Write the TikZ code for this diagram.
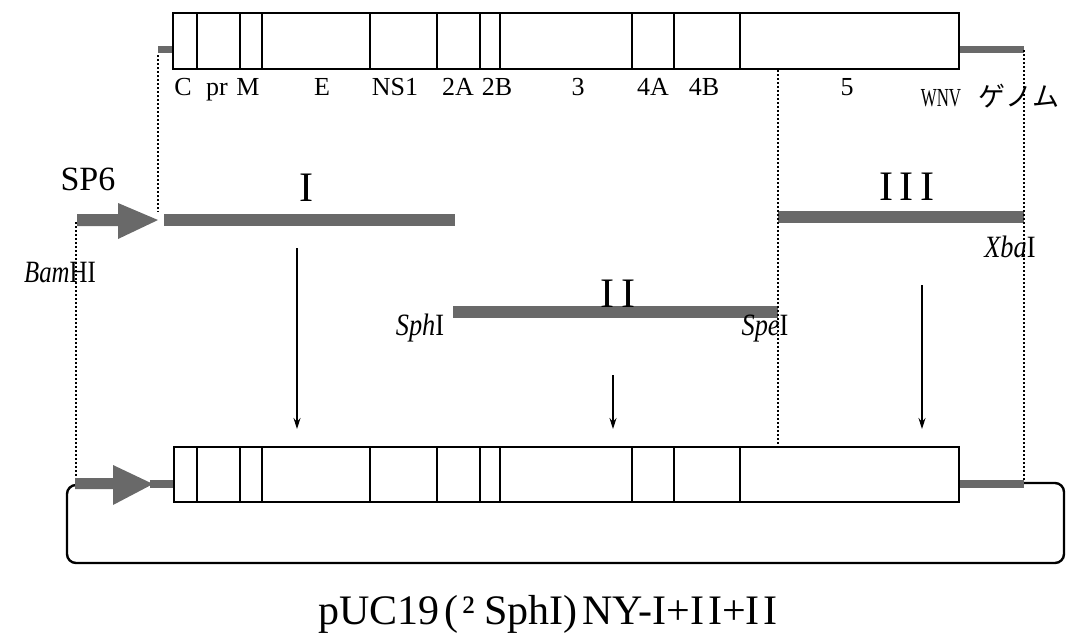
\documentclass[tikz,border=0pt]{standalone}
\usepackage{fontspec}
\setmainfont{Liberation Serif}
\newfontfamily\jpfont{Noto Sans CJK JP}
\usetikzlibrary{arrows.meta}
\definecolor{bargray}{RGB}{105,105,105}
\tikzset{
  genebox/.style={draw=black, line width=2.2pt},
  divider/.style={line width=1.8pt},
  dotline/.style={line width=1.8pt, dash pattern=on 1.8pt off 2.2pt},
  downarrow/.style={line width=1.1pt, -{Stealth[length=11pt,width=7pt]}},
  seglabel/.style={font=\fontsize{26}{26}\selectfont, inner sep=0pt, anchor=base},
  biglabel/.style={font=\fontsize{34}{34}\selectfont, inner sep=0pt, anchor=base},
  roman/.style={font=\fontsize{42}{42}\selectfont, inner sep=0pt, anchor=base},
  enzlabel/.style={font=\fontsize{31}{31}\selectfont, inner sep=0pt, anchor=base},
  looppath/.style={line width=2.4pt, rounded corners=9pt}
}
\begin{document}
\begin{tikzpicture}[x=1pt,y=-1pt]
\useasboundingbox (0,0) rectangle (1069,638);
% ---------- top genome ----------
\fill[bargray] (158,46) rectangle (173,53);
\fill[bargray] (959,46) rectangle (1024,53);
\draw[genebox] (173,13) rectangle (959,69);
\foreach \xx in {197,240,262,370,437,480,500,632,674,740}
  \draw[divider] (\xx,13) -- (\xx,69);
\node[seglabel] (lC) at (183,95) {C};
\node[seglabel] (lpr) at (217,95) {pr};
\node[seglabel] (lM) at (248,95) {M};
\node[seglabel] (lE) at (322,95) {E};
\node[seglabel] (lNS) at (395,95) {NS1};
\node[seglabel] (l2A) at (458,95) {2A};
\node[seglabel] (l2B) at (497,95) {2B};
\node[seglabel] (l3) at (578,95) {3};
\node[seglabel] (l4A) at (653,95) {4A};
\node[seglabel] (l4B) at (704,95) {4B};
\node[seglabel] (l5) at (847,95) {5};
\node[seglabel] (wnv) at (941,106) {\scalebox{0.65}[1]{WNV}};
\node[inner sep=0pt, anchor=base, font=\jpfont\fontsize{27}{27}\selectfont] (genome) at (1019,106) {ゲノム};
% ---------- SP6 arrow and fragments ----------
\node[biglabel] (sp6) at (88,190) {SP6};
\fill[bargray] (77,214) -- (118,214) -- (118,203) -- (158,220) -- (118,239) -- (118,226) -- (77,226) -- cycle;
\fill[bargray] (164,214) rectangle (455,226);
\node[roman] (rI) at (306,201) {I};
\fill[bargray] (453,306) rectangle (778,318);
\node[roman] (rII) at (618,307) {I\hspace{7pt}I};
\fill[bargray] (778,211) rectangle (1024,223);
\node[roman] (rIII) at (907,200) {I\hspace{7pt}I\hspace{7pt}I};
\node[enzlabel] (bam) at (60,282) {\scalebox{0.8}[1]{\textit{Bam}HI}};
\node[enzlabel] (sph) at (420,335) {\scalebox{0.85}[1]{\textit{Sph}I}};
\node[enzlabel] (spe) at (765,335) {\scalebox{0.85}[1]{\textit{Spe}I}};
\node[enzlabel] (xba) at (1010,257) {\scalebox{0.85}[1]{\textit{Xba}I}};
% ---------- dotted guides ----------
\coordinate (d1a) at (158,55); \coordinate (d1b) at (158,212);
\coordinate (d2a) at (778,70); \coordinate (d2b) at (778,446);
\coordinate (d3a) at (1024,50); \coordinate (d3b) at (1024,480);
\coordinate (d4a) at (76,222); \coordinate (d4b) at (76,478);
\draw[dotline] (d1a) -- (d1b);
\draw[dotline] (d2a) -- (d2b);
\draw[dotline] (d3a) -- (d3b);
\draw[dotline] (d4a) -- (d4b);
% ---------- down arrows ----------
\coordinate (a1s) at (297,248); \coordinate (a1e) at (297,429);
\coordinate (a2s) at (613,375); \coordinate (a2e) at (613,429);
\coordinate (a3s) at (922,285); \coordinate (a3e) at (922,429);
\draw[downarrow] (a1s) -- (a1e);
\draw[downarrow] (a2s) -- (a2e);
\draw[downarrow] (a3s) -- (a3e);
% ---------- bottom construct ----------
\draw[looppath] (1024,483) -- (1064,483) -- (1064,563) -- (67,563) -- (67,485) -- (77,485);
\fill[bargray] (75,478) -- (113,478) -- (113,465) -- (153,484) -- (113,505) -- (113,489) -- (75,489) -- cycle;
\fill[bargray] (150,480) rectangle (174,488);
\fill[bargray] (959,480) rectangle (1024,488);
\draw[genebox] (174,447) rectangle (959,502);
\foreach \xx in {197,240,262,370,437,480,500,632,674,740}
  \draw[divider] (\xx,447) -- (\xx,502);
% ---------- title ----------
\node[inner sep=0pt, anchor=base, font=\fontsize{42}{42}\selectfont] (title) at (548,624) {pUC19\hspace{5pt}(\hspace{4pt}²\hspace{9pt}SphI)\hspace{5pt}NY-I+I\hspace{4pt}I+I\hspace{4pt}I};
\end{tikzpicture}
\end{document}
